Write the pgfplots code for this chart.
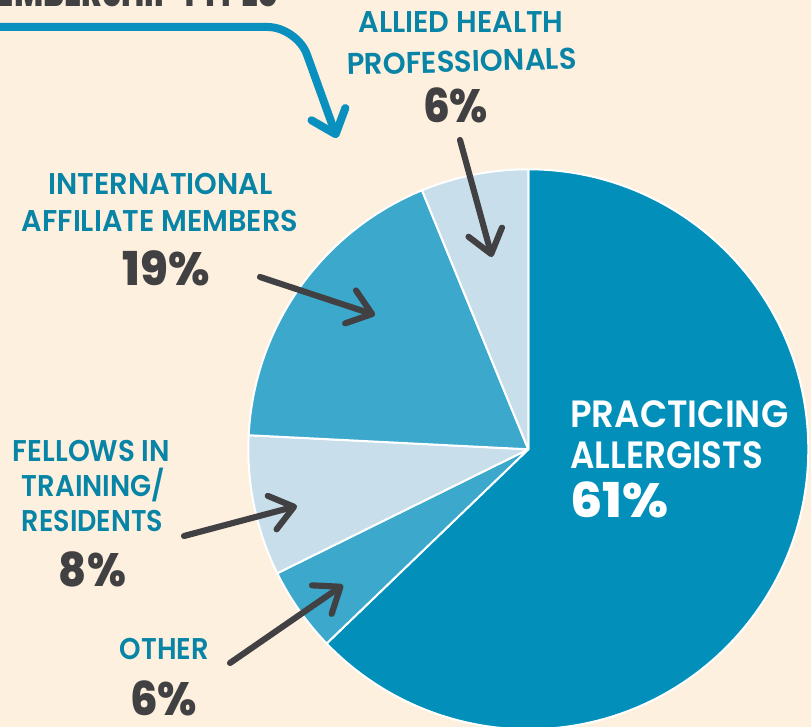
\documentclass[border=0pt]{standalone}
\usepackage{pgfplots}
\pgfplotsset{compat=1.18}
\usepackage{fontspec}
\usetikzlibrary{arrows.meta}
\setmainfont{Poppins}[UprightFont=* SemiBold, BoldFont=* ExtraBold]
\definecolor{cream}{HTML}{FDF0DE}
\definecolor{pA}{HTML}{0290BB}
\definecolor{pB}{HTML}{3BA8CC}
\definecolor{pC}{HTML}{C8DEEB}
\definecolor{lab}{HTML}{0784A6}
\definecolor{dg}{HTML}{414042}
\definecolor{arrowblue}{HTML}{0A90BF}
\newdimen\px \px=0.75pt
% slice: start angle, end angle, colour
\newcommand\slice[3]{\fill[#3, draw=white, line width=1.5pt, line join=round] (axis cs:528.3,277.7) -- ++(#1:210pt) arc[start angle=#1, end angle=#2, radius=210pt] -- cycle;}
\newcommand\lab[5][anchor=base]{\node[#1, text=lab, inner sep=0pt, font=\fontsize{22.5}{27}\selectfont] at (axis cs:#2,#3) {\resizebox{#4\px}{\height}{#5}};}
\newcommand\pct[4]{\node[anchor=base, text=dg, inner sep=0pt, font=\fontsize{35}{40}\selectfont\bfseries] at (axis cs:#1,#2) {\resizebox{#3\px}{\height}{#4}};}
\tikzset{darr/.style={dg, line width=4.6pt, line cap=round, -{Straight Barb[length=17pt, width=26pt, round]}}}
\begin{document}
\begin{tikzpicture}
\begin{axis}[hide axis, x=0.75pt, y=0.75pt, xmin=0, xmax=811, ymin=0, ymax=727, scale only axis, clip=true]
\fill[cream] (axis cs:0,0) rectangle (axis cs:811,727);
% shares (percent of circle): 62.8, 4.9, 8.1, 18.0, 6.1
\slice{90}{{90-3.6*62.8}}{pA}
\slice{{90-3.6*62.8}}{{90-3.6*(62.8+4.9)}}{pB}
\slice{{90-3.6*(62.8+4.9)}}{{90-3.6*(62.8+4.9+8.1)}}{pC}
\slice{{90-3.6*(62.8+4.9+8.1)}}{{90-3.6*(62.8+4.9+8.1+18.0)}}{pB}
\slice{{90-3.6*(62.8+4.9+8.1+18.0)}}{-270}{pC}
% title (cut off)
\node[anchor=base east, text=dg, inner sep=0pt, font=\fontsize{34}{40}\selectfont\bfseries] at (axis cs:278,720) {\resizebox{310\px}{\height}{MEMBERSHIP TYPES}};
\draw[arrowblue, line width=6pt, line cap=round, rounded corners=22pt, -{Straight Barb[length=16pt, width=27pt, round]}] (axis cs:-20,700) -- (axis cs:297,700) -- (axis cs:337,589);
% labels
\lab{461}{694}{205}{ALLIED HEALTH}
\lab[anchor=base, rotate=1.5]{462}{655}{230}{PROFESSIONALS}
\pct{455.5}{604}{65}{6\%}
\lab{160.5}{532}{224}{INTERNATIONAL}
\lab{160}{495}{276}{AFFILIATE MEMBERS}
\pct{166.5}{441}{87}{19\%}
\lab{91.5}{265}{157}{FELLOWS IN}
\lab{93.5}{230}{143}{TRAINING/}
\lab{92.5}{195}{141}{RESIDENTS}
\pct{92.5}{140}{67}{8\%}
\lab{164.5}{67}{89}{OTHER}
\pct{163.5}{11}{67}{6\%}
\node[anchor=base west, text=white, inner sep=0pt, font=\fontsize{28.5}{34}\selectfont] at (axis cs:570,299) {\resizebox{218\px}{\height}{PRACTICING}};
\node[anchor=base west, text=white, inner sep=0pt, font=\fontsize{28.5}{34}\selectfont] at (axis cs:570,258) {\resizebox{193\px}{\height}{ALLERGISTS}};
\node[anchor=base west, text=white, inner sep=0pt, font=\fontsize{36}{40}\selectfont\bfseries] at (axis cs:570,209) {\resizebox{98\px}{\height}{61\%}};
% arrows
\draw[darr] (axis cs:460,587) -- (axis cs:492,470);
\draw[darr] (axis cs:260,450) -- (axis cs:375,412);
\draw[darr] (axis cs:184,191) -- (axis cs:297,221);
\draw[darr] (axis cs:230,64) -- (axis cs:343,142);
\end{axis}
\end{tikzpicture}
\end{document}
